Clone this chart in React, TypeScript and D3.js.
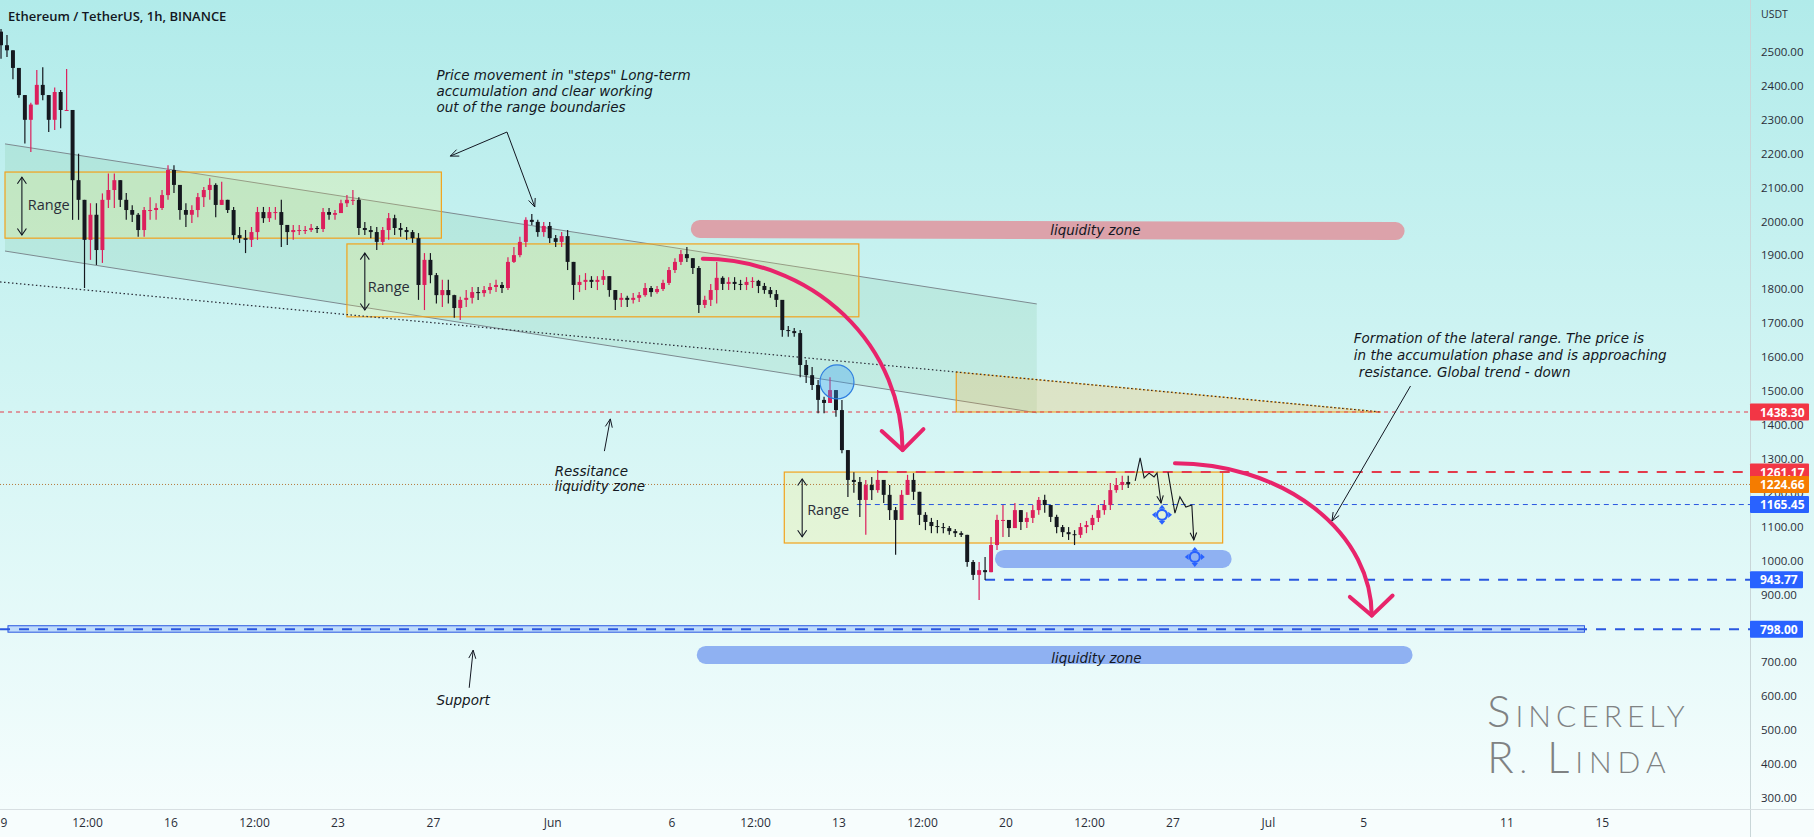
import React from "react";
import * as d3 from "d3";

// ---------- layout constants ----------
const WIDTH = 1814;
const HEIGHT = 837;
const PANE_RIGHT = 1750;
const PANE_BOTTOM = 809;

// ---------- time base ----------
const ORIGIN = Date.UTC(2022, 4, 9, 0, 0); // 9 May 2022 00:00
const PX_PER_HOUR = 0.994;
const FIRST_CANDLE_HOUR = -6; // 8 May 18:00
const CANDLE_HOURS = 6;
const FIRST_OPEN = 2560;

// ---------- ETH/USDT, 6h aggregated candles ----------
const highs = [
  2568, 2550, 2476, 2447, 2358, 2350, 2447, 2455, 2373, 2395,
  2388, 2450, 2299, 2200, 2005, 2054, 2054, 2083, 2142, 2142,
  2102, 2084, 2048, 2025, 2043, 2072, 2054, 2093, 2166, 2166,
  2108, 2054, 2048, 2084, 2102, 2128, 2113, 2117, 2054, 2043,
  1984, 1975, 1984, 2043, 2043, 2043, 2043, 2064, 1990, 1990,
  1990, 1987, 1993, 1987, 2040, 2040, 2034, 2064, 2078, 2093,
  2072, 1999, 1987, 1984, 1984, 2025, 2020, 1996, 1984, 1975,
  1966, 1907, 1907, 1848, 1828, 1828, 1784, 1778, 1798, 1807,
  1807, 1810, 1819, 1828, 1822, 1895, 1925, 1955, 2013, 2022,
  2005, 1999, 1999, 1960, 1969, 1975, 1857, 1842, 1848, 1839,
  1839, 1857, 1836, 1798, 1789, 1781, 1789, 1792, 1819, 1810,
  1810, 1828, 1866, 1892, 1916, 1925, 1881, 1869, 1781, 1816,
  1881, 1839, 1836, 1836, 1828, 1836, 1836, 1828, 1819, 1807,
  1798, 1769, 1692, 1686, 1680, 1592, 1571, 1533, 1483, 1541,
  1503, 1474, 1317, 1261, 1247, 1238, 1247, 1267, 1238, 1223,
  1158, 1208, 1253, 1258, 1194, 1143, 1126, 1120, 1111, 1102,
  1093, 1087, 1076, 1002, 996, 1011, 1070, 1135, 1164, 1114,
  1170, 1149, 1143, 1164, 1188, 1194, 1155, 1135, 1105, 1099,
  1090, 1111, 1117, 1135, 1164, 1179, 1229, 1244, 1250, 1250,
];
const lows = [
  2480, 2485, 2420, 2365, 2230, 2205, 2365, 2358, 2264, 2270,
  2275, 2330, 2005, 2005, 1804, 1887, 1872, 1878, 2040, 2040,
  2043, 2005, 1999, 1955, 1955, 2005, 2005, 2034, 2064, 2084,
  2005, 1984, 1996, 2013, 2043, 2064, 2013, 2049, 2025, 1946,
  1937, 1907, 1925, 1946, 1996, 1999, 2005, 1925, 1931, 1946,
  1960, 1963, 1969, 1966, 1969, 2005, 2005, 2025, 2043, 2049,
  1960, 1960, 1951, 1916, 1931, 1946, 1960, 1955, 1946, 1937,
  1769, 1739, 1818, 1758, 1748, 1758, 1716, 1710, 1748, 1758,
  1769, 1778, 1787, 1792, 1789, 1798, 1878, 1895, 1925, 1990,
  1955, 1955, 1937, 1925, 1925, 1857, 1769, 1792, 1798, 1804,
  1798, 1813, 1778, 1739, 1748, 1748, 1758, 1763, 1778, 1778,
  1787, 1795, 1813, 1848, 1872, 1881, 1845, 1730, 1745, 1751,
  1758, 1798, 1798, 1798, 1798, 1798, 1804, 1789, 1787, 1775,
  1748, 1660, 1660, 1660, 1541, 1524, 1503, 1435, 1435, 1474,
  1424, 1317, 1188, 1200, 1129, 1076, 1179, 1200, 1170, 1120,
  1017, 1120, 1194, 1179, 1105, 1090, 1081, 1081, 1081, 1076,
  1070, 1070, 982, 943, 884, 943, 972, 1031, 1070, 1070,
  1105, 1090, 1096, 1111, 1135, 1141, 1114, 1081, 1070, 1061,
  1046, 1067, 1081, 1090, 1114, 1135, 1149, 1200, 1208, 1214,
];
const closes = [
  2520, 2505, 2453, 2373, 2300, 2345, 2403, 2373, 2300, 2382,
  2329, 2329, 2122, 2064, 1946, 2020, 1916, 2064, 2093, 2122,
  2064, 2034, 2020, 1975, 2034, 2034, 2040, 2078, 2152, 2108,
  2034, 2020, 2034, 2072, 2093, 2108, 2049, 2064, 2034, 1960,
  1951, 1946, 1969, 2028, 2010, 2028, 2028, 1990, 1969, 1975,
  1975, 1975, 1981, 1978, 2028, 2020, 2025, 2054, 2064, 2064,
  1981, 1975, 1969, 1940, 1975, 2010, 1981, 1975, 1969, 1951,
  1813, 1887, 1842, 1783, 1798, 1783, 1745, 1769, 1775, 1792,
  1789, 1798, 1807, 1813, 1804, 1881, 1901, 1940, 2005, 1999,
  1969, 1987, 1951, 1940, 1957, 1881, 1813, 1822, 1828, 1822,
  1828, 1839, 1798, 1769, 1775, 1769, 1775, 1783, 1804, 1792,
  1801, 1819, 1857, 1881, 1904, 1892, 1863, 1754, 1769, 1798,
  1834, 1816, 1822, 1816, 1813, 1822, 1825, 1810, 1798, 1786,
  1769, 1680, 1677, 1671, 1577, 1547, 1518, 1474, 1465, 1503,
  1444, 1326, 1238, 1232, 1179, 1223, 1208, 1238, 1194, 1149,
  1120, 1194, 1238, 1203, 1135, 1114, 1102, 1099, 1096, 1087,
  1081, 1076, 996, 958, 972, 966, 1046, 1120, 1120, 1096,
  1149, 1114, 1126, 1149, 1179, 1164, 1129, 1099, 1084, 1078,
  1076, 1099, 1105, 1126, 1149, 1164, 1208, 1223, 1232, 1224.66,
];

// ---------- axes ----------
const priceTicks = [
  300, 400, 500, 600, 700, 800, 900, 1000, 1100, 1200, 1300, 1400,
  1500, 1600, 1700, 1800, 1900, 2000, 2100, 2200, 2300, 2400, 2500,
];
const timeTickDates = [
  "2022-05-09T00:00Z", "2022-05-12T12:00Z", "2022-05-16T00:00Z", "2022-05-19T12:00Z",
  "2022-05-23T00:00Z", "2022-05-27T00:00Z", "2022-06-01T00:00Z", "2022-06-06T00:00Z",
  "2022-06-09T12:00Z", "2022-06-13T00:00Z", "2022-06-16T12:00Z", "2022-06-20T00:00Z",
  "2022-06-23T12:00Z", "2022-06-27T00:00Z", "2022-07-01T00:00Z", "2022-07-05T00:00Z",
  "2022-07-11T00:00Z", "2022-07-15T00:00Z",
];
const timeTickLabels = [
  "9", "12:00", "16", "12:00", "23", "27", "Jun", "6", "12:00", "13",
  "12:00", "20", "12:00", "27", "Jul", "5", "11", "15",
];

// ---------- horizontal price levels ----------
const levelPrices = [1438.3, 1261.17, 1224.66, 1165.45, 943.77, 798.0];
const levelStartHours = [-4, 879, -4, 858, 987, -4];
const levelLabels = ["1438.30", "1261.17", "1224.66", "1165.45", "943.77", "798.00"];

// ---------- drawing anchors (hour since 9 May, price) ----------
const channelUpper = [[1, 2229], [1039, 1757]];
const channelLower = [[1, 1913], [1039, 1436]];
const trendDotted = [[-4, 1822], [1385, 1438.3]];
const rangeBoxes = [
  { h0: 1, h1: 440, top: 2146, bottom: 1951 },
  { h0: 345, h1: 860, top: 1934, bottom: 1719 },
  { h0: 785, h1: 1226, top: 1261.17, bottom: 1052 },
];
const rangeArrowHours = [18, 363, 803];
const rangeArrowPrices = [[2131, 1960], [1907, 1739], [1241, 1070]];
const rangeTextAnchors = [[24, 2034], [366, 1792], [808, 1135]];

// ---------- style tables ----------
const LEVEL_STYLE = [
  { color: "#e33b4b", width: 1, dash: "4 4", tag: "#f23645" },
  { color: "#e33b4b", width: 2, dash: "10 9", tag: "#f23645" },
  { color: "#b5783a", width: 1, dash: "1 2", tag: "#f57c00" },
  { color: "#2a57e0", width: 1, dash: "5 4", tag: "#2962ff" },
  { color: "#2a57e0", width: 2, dash: "10 9", tag: "#2962ff" },
  { color: "#2a57e0", width: 2, dash: "10 9", tag: "#2962ff" },
];
const UP = "#dc1f5c";
const DOWN = "#15181f";
const PINK = "#e8246b";
const INK = "#131722";
const NOTE_FONT = "'DejaVu Sans', Verdana, sans-serif";
const UI_FONT = "'Open Sans', 'Noto Sans', Arial, sans-serif";

function headPath(x1: number, y1: number, x2: number, y2: number, len = 9, ang = 0.42) {
  const a = Math.atan2(y2 - y1, x2 - x1);
  const ax = x2 - len * Math.cos(a - ang);
  const ay = y2 - len * Math.sin(a - ang);
  const bx = x2 - len * Math.cos(a + ang);
  const by = y2 - len * Math.sin(a + ang);
  return `M${ax},${ay}L${x2},${y2}L${bx},${by}`;
}

function MoveIcon({ cx, cy }: { cx: number; cy: number }) {
  const d =
    `M${cx},${cy - 10} l-3.2,3.8 h6.4 z ` +
    `M${cx},${cy + 10} l-3.2,-3.8 h6.4 z ` +
    `M${cx - 10},${cy} l3.8,-3.2 v6.4 z ` +
    `M${cx + 10},${cy} l-3.8,-3.2 v6.4 z`;
  return (
    <g>
      <circle cx={cx} cy={cy} r={5} fill="none" stroke="#2962ff" strokeWidth={2.2} />
      <path d={d} fill="#2962ff" />
    </g>
  );
}

export default function App() {
  const x = d3
    .scaleUtc()
    .domain([
      new Date(ORIGIN - (4 / PX_PER_HOUR) * 3600e3),
      new Date(ORIGIN + ((PANE_RIGHT - 4) / PX_PER_HOUR) * 3600e3),
    ])
    .range([0, PANE_RIGHT]);
  const y = d3.scaleLinear().domain([300, 2500]).range([798, 52]);
  const hx = (h: number) => x(new Date(ORIGIN + h * 3600e3));
  const P = (h: number, p: number): [number, number] => [hx(h), y(p)];

  const candles = closes.map((c, i) => {
    const o = i === 0 ? FIRST_OPEN : closes[i - 1];
    const hi = Math.max(highs[i], o, c);
    const lo = Math.min(lows[i], o, c);
    const t = FIRST_CANDLE_HOUR + i * CANDLE_HOURS + CANDLE_HOURS / 2;
    return { t, o, hi, lo, c };
  });
  const slot = hx(CANDLE_HOURS) - hx(0);
  const bodyW = Math.max(2, slot - 2);

  const [u0, u1] = channelUpper.map(([h, p]) => P(h, p));
  const [l0, l1] = channelLower.map(([h, p]) => P(h, p));
  const [t0, t1] = trendDotted.map(([h, p]) => P(h, p));

  const triLeftH = 958;
  const trendAt = (h: number) =>
    trendDotted[0][1] +
    ((trendDotted[1][1] - trendDotted[0][1]) * (h - trendDotted[0][0])) / (trendDotted[1][0] - trendDotted[0][0]);
  const triA = P(triLeftH, trendAt(triLeftH));
  const triB = P(trendDotted[1][0], 1438.3);
  const triC = P(triLeftH, 1438.3);

  const a1s = P(703, 1890), a1e = P(904, 1326);
  const a1l = P(883, 1382), a1r = P(925, 1388);
  const a2s = P(1178, 1287), a2e = P(1376, 838);
  const a2l = P(1354, 893), a2r = P(1397, 897);

  const proj1 = [[1138, 1235], [1143, 1303], [1147, 1244], [1152, 1258], [1157, 1247], [1160, 1259], [1164, 1170]].map(([h, p]) => P(h, p));
  const proj2 = [[1171, 1261], [1178, 1140], [1183, 1188], [1189, 1158], [1195, 1164], [1197, 1061]].map(([h, p]) => P(h, p));

  const line = d3.line();

  const noteArrows: [[number, number], [number, number]][] = [
    [P(506, 2264), P(449, 2193)],
    [P(506, 2264), P(534, 2043)],
    [P(604, 1323), P(610, 1418)],
    [P(468, 625), P(472, 736)],
    [P(1415, 1515), P(1336, 1117)],
  ];

  const priceMove = P(435, 2417);
  const resist = P(554, 1250);
  const support = P(435, 574);
  const formation = P(1358, 1642);
  const pinkZone = [P(700, 1978), P(1400, 1972)];
  const blueSmall = [P(1006, 1005), P(1226, 1005)];
  const blueBig = [P(706, 722), P(1408, 722)];
  const pinkText = P(1098, 1972);
  const blueText = P(1099, 710);
  const circle = P(838, 1527);
  const icon1 = P(1165, 1135);
  const icon2 = P(1198, 1011);
  const supportRect = { x0: hx(4), x1: hx(1590), top: y(808), bottom: y(789) };

  return (
    <div style={{ width: WIDTH, height: HEIGHT }}>
      <style>{`body{margin:0;}`}</style>
      <svg width={WIDTH} height={HEIGHT} style={{ display: "block" }}>
        <defs>
          <linearGradient id="bg" x1="0" y1="0" x2="0" y2={PANE_BOTTOM} gradientUnits="userSpaceOnUse">
            <stop offset="0" stopColor="#b1ebea" />
            <stop offset="0.5" stopColor="#d3f5f4" />
            <stop offset="1" stopColor="#f5fdfd" />
          </linearGradient>
          <clipPath id="pane">
            <rect x={0} y={0} width={PANE_RIGHT} height={PANE_BOTTOM} />
          </clipPath>
        </defs>

        <rect x={0} y={0} width={WIDTH} height={PANE_BOTTOM} fill="url(#bg)" />
        <rect x={0} y={PANE_BOTTOM} width={WIDTH} height={HEIGHT - PANE_BOTTOM} fill="#f7fdfd" />

        <g clipPath="url(#pane)">
          <polygon points={[u0, u1, l1, l0].map((p) => p.join(",")).join(" ")} fill="rgba(76,160,90,0.11)" />
          <path d={line([u0, u1]) || ""} stroke="#7d8a90" strokeWidth={1} fill="none" />
          <path d={line([l0, l1]) || ""} stroke="#7d8a90" strokeWidth={1} fill="none" />

          <polygon points={[triA, triB, triC].map((p) => p.join(",")).join(" ")} fill="rgba(255,170,40,0.22)" />
          <path d={line([triA, triC, triB]) || ""} stroke="#f0a020" strokeWidth={1.2} fill="none" />
          <path d={line([triA, triB]) || ""} stroke="#f0a020" strokeWidth={1.5} strokeDasharray="2 2" fill="none" />

          {rangeBoxes.map((b, i) => (
            <rect
              key={i}
              x={hx(b.h0)}
              y={y(b.top)}
              width={hx(b.h1) - hx(b.h0)}
              height={y(b.bottom) - y(b.top)}
              fill="rgba(255,236,90,0.2)"
              stroke="#f2a21c"
              strokeWidth={1.2}
            />
          ))}

          <path d={line([t0, t1]) || ""} stroke="#2a2e39" strokeWidth={1.2} strokeDasharray="1.5 2.5" fill="none" />

          <path d={line(pinkZone) || ""} stroke="#dca2aa" strokeWidth={18} strokeLinecap="round" fill="none" />
          <path d={line(blueSmall) || ""} stroke="#8fb1f2" strokeWidth={18} strokeLinecap="round" fill="none" />
          <path d={line(blueBig) || ""} stroke="#8fb1f2" strokeWidth={18} strokeLinecap="round" fill="none" />

          <rect
            x={supportRect.x0}
            y={supportRect.top}
            width={supportRect.x1 - supportRect.x0}
            height={supportRect.bottom - supportRect.top}
            fill="rgba(100,150,255,0.3)"
            stroke="#2a57e0"
            strokeWidth={1}
          />

          {levelPrices.map((p, i) => (
            <line
              key={i}
              x1={hx(levelStartHours[i])}
              x2={PANE_RIGHT}
              y1={y(p)}
              y2={y(p)}
              stroke={LEVEL_STYLE[i].color}
              strokeWidth={LEVEL_STYLE[i].width}
              strokeDasharray={LEVEL_STYLE[i].dash}
            />
          ))}

          {candles.map((d, i) => {
            const col = d.c >= d.o ? UP : DOWN;
            const cx = hx(d.t);
            const top = y(Math.max(d.o, d.c));
            const bot = y(Math.min(d.o, d.c));
            return (
              <g key={i}>
                <line x1={cx} x2={cx} y1={y(d.hi)} y2={y(d.lo)} stroke={col} strokeWidth={1.2} />
                <rect x={cx - bodyW / 2} y={top} width={bodyW} height={Math.max(1, bot - top)} fill={col} />
              </g>
            );
          })}

          <circle cx={circle[0]} cy={circle[1]} r={17} fill="rgba(60,160,240,0.35)" stroke="#2f7fe0" strokeWidth={1.2} />

          <path d={line(proj1) || ""} stroke="#15181f" strokeWidth={1.1} fill="none" />
          <path d={headPath(proj1[5][0], proj1[5][1], proj1[6][0], proj1[6][1], 8)} stroke="#15181f" strokeWidth={1.1} fill="none" />
          <path d={line(proj2) || ""} stroke="#15181f" strokeWidth={1.1} fill="none" />
          <path d={headPath(proj2[4][0], proj2[4][1], proj2[5][0], proj2[5][1], 8)} stroke="#15181f" strokeWidth={1.1} fill="none" />
          <MoveIcon cx={icon1[0]} cy={icon1[1]} />
          <MoveIcon cx={icon2[0]} cy={icon2[1]} />

          {rangeArrowHours.map((h, i) => {
            const [xa, ya] = P(h, rangeArrowPrices[i][0]);
            const [, yb] = P(h, rangeArrowPrices[i][1]);
            return (
              <g key={i} stroke={INK} strokeWidth={1.1} fill="none">
                <line x1={xa} x2={xa} y1={ya} y2={yb} />
                <path d={headPath(xa, yb, xa, ya, 8, 0.6)} />
                <path d={headPath(xa, ya, xa, yb, 8, 0.6)} />
              </g>
            );
          })}
          {rangeTextAnchors.map(([h, p], i) => {
            const [tx, ty] = P(h, p);
            return (
              <text key={i} x={tx} y={ty} fontFamily={UI_FONT} fontSize={14.5} fill="#2a2e39">
                Range
              </text>
            );
          })}

          <g stroke={PINK} strokeWidth={4} fill="none" strokeLinecap="round" strokeLinejoin="round">
            <path d={`M${a1s[0]},${a1s[1]} A${a1e[0] - a1s[0]},${a1e[1] - a1s[1]} 0 0 1 ${a1e[0]},${a1e[1]}`} />
            <path d={`M${a1l[0]},${a1l[1]} L${a1e[0]},${a1e[1]} L${a1r[0]},${a1r[1]}`} />
            <path d={`M${a2s[0]},${a2s[1]} A${a2e[0] - a2s[0]},${a2e[1] - a2s[1]} 0 0 1 ${a2e[0]},${a2e[1]}`} />
            <path d={`M${a2l[0]},${a2l[1]} L${a2e[0]},${a2e[1]} L${a2r[0]},${a2r[1]}`} />
          </g>

          {noteArrows.map(([a, b], i) => (
            <g key={i} stroke={INK} strokeWidth={1} fill="none">
              <line x1={a[0]} y1={a[1]} x2={b[0]} y2={b[1]} />
              <path d={headPath(a[0], a[1], b[0], b[1], 9, 0.4)} />
            </g>
          ))}

          <text x={priceMove[0]} y={priceMove[1]} fontFamily={NOTE_FONT} fontStyle="italic" fontSize={13.5} fill={INK}>
            <tspan x={priceMove[0]}>Price movement in "steps" Long-term</tspan>
            <tspan x={priceMove[0]} dy={16}>accumulation and clear working</tspan>
            <tspan x={priceMove[0]} dy={16}>out of the range boundaries</tspan>
          </text>
          <text x={resist[0]} y={resist[1]} fontFamily={NOTE_FONT} fontStyle="italic" fontSize={13.5} fill={INK}>
            <tspan x={resist[0]}>Ressitance</tspan>
            <tspan x={resist[0]} dy={15}>liquidity zone</tspan>
          </text>
          <text x={support[0]} y={support[1]} fontFamily={NOTE_FONT} fontStyle="italic" fontSize={13.5} fill={INK}>
            Support
          </text>
          <text x={formation[0]} y={formation[1]} fontFamily={NOTE_FONT} fontStyle="italic" fontSize={13.5} fill={INK}>
            <tspan x={formation[0]}>Formation of the lateral range. The price is</tspan>
            <tspan x={formation[0]} dy={17}>in the accumulation phase and is approaching</tspan>
            <tspan x={formation[0] + 5} dy={17}>resistance. Global trend - down</tspan>
          </text>
          <text x={pinkText[0]} y={pinkText[1] + 4} textAnchor="middle" fontFamily={NOTE_FONT} fontStyle="italic" fontSize={13.5} fill={INK}>
            liquidity zone
          </text>
          <text x={blueText[0]} y={blueText[1] + 4} textAnchor="middle" fontFamily={NOTE_FONT} fontStyle="italic" fontSize={13.5} fill={INK}>
            liquidity zone
          </text>
        </g>

        <g fill="#7f8283" fontFamily="Lato, 'Open Sans', sans-serif" fontWeight={300} letterSpacing={5}>
          <text x={1487} y={727}>
            <tspan fontSize={44}>S</tspan>
            <tspan fontSize={30}>INCERELY</tspan>
          </text>
          <text x={1487} y={773} letterSpacing={6}>
            <tspan fontSize={44}>R</tspan>
            <tspan fontSize={30}>. </tspan>
            <tspan fontSize={44}>L</tspan>
            <tspan fontSize={30}>INDA</tspan>
          </text>
        </g>

        <text x={8} y={21} fontFamily={UI_FONT} fontWeight={600} fontSize={13} fill={INK}>
          Ethereum / TetherUS, 1h, BINANCE
        </text>

        <line x1={PANE_RIGHT + 0.5} x2={PANE_RIGHT + 0.5} y1={0} y2={HEIGHT} stroke="#c9d6d8" />
        <line x1={0} x2={WIDTH} y1={PANE_BOTTOM + 0.5} y2={PANE_BOTTOM + 0.5} stroke="#d8dfe2" />

        <text x={1761} y={18} fontFamily={UI_FONT} fontSize={10.5} fill="#2a2e39">USDT</text>
        {priceTicks.map((p) => (
          <text key={p} x={1761} y={y(p) + 4} fontFamily={UI_FONT} fontSize={11.5} fill="#2a2e39">
            {d3.format(".2f")(p)}
          </text>
        ))}
        {levelPrices.map((p, i) => {
          const w = levelLabels[i].length >= 7 ? 59 : 53;
          return (
            <g key={i}>
              <rect x={PANE_RIGHT} y={y(p) - 8.5} width={w} height={17} fill={LEVEL_STYLE[i].tag} rx={1} />
              <text x={1760} y={y(p) + 4.5} fontFamily={UI_FONT} fontWeight={700} fontSize={12} fill="#ffffff">
                {levelLabels[i]}
              </text>
            </g>
          );
        })}

        {timeTickDates.map((s, i) => (
          <text key={s} x={x(new Date(s))} y={827} textAnchor="middle" fontFamily={UI_FONT} fontSize={12} fill="#2a2e39">
            {timeTickLabels[i]}
          </text>
        ))}
      </svg>
    </div>
  );
}
